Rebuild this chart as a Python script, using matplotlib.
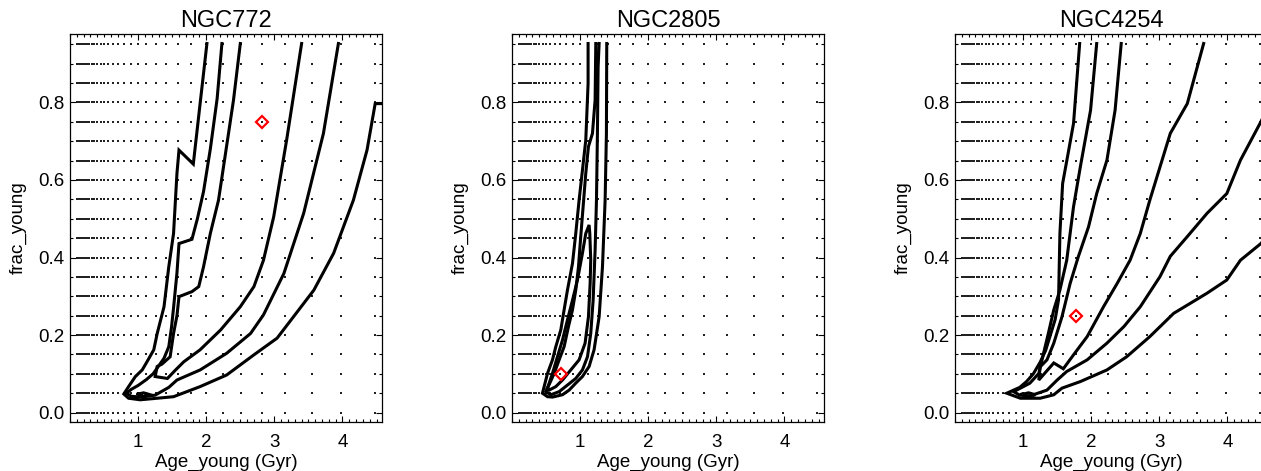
"""
Age / young-fraction contour panels for three galaxies
"""
import matplotlib
matplotlib.use('Agg')
import matplotlib.pyplot as plt
from matplotlib.ticker import MultipleLocator

plt.rcParams['font.family'] = ['Liberation Sans', 'DejaVu Sans']

# model grid (Gyr, fraction)
grid_ages = [0.10, 0.11, 0.13, 0.14, 0.16, 0.18, 0.20, 0.22, 0.25, 0.28,
             0.32, 0.35, 0.40, 0.45, 0.50, 0.56, 0.63, 0.71, 0.79, 0.89,
             1.00, 1.12, 1.26, 1.41, 1.58, 1.78, 2.00, 2.24, 2.51, 2.82,
             3.16, 3.55, 3.98, 4.47]
grid_fracs = [0.00, 0.05, 0.10, 0.15, 0.20, 0.25, 0.30, 0.35, 0.40, 0.45,
              0.50, 0.55, 0.60, 0.65, 0.70, 0.75, 0.80, 0.85, 0.90, 0.95]

galaxies = ['NGC772', 'NGC2805', 'NGC4254']
best_age = [2.82, 0.72, 1.78]
best_frac = [0.75, 0.10, 0.25]

# NGC772 contours
n772_c1_x = [2.50, 2.40, 2.18, 2.06, 1.96, 1.89, 1.79, 1.60, 1.57, 1.52, 1.47, 1.35,
             1.28, 1.25, 1.43, 1.55, 1.67, 1.91, 2.21, 2.50, 2.70, 2.84, 2.99, 3.18, 3.40]
n772_c1_y = [0.952, 0.806, 0.548, 0.462, 0.376, 0.325, 0.312, 0.299, 0.25, 0.204, 0.144, 0.125,
             0.119, 0.093, 0.088, 0.11, 0.131, 0.162, 0.213, 0.273, 0.325, 0.393, 0.505, 0.703, 0.952]
n772_c2_x = [2.23, 2.16, 2.06, 1.96, 1.87, 1.79, 1.60, 1.57, 1.52, 1.49, 1.45, 1.38, 1.30,
             1.22, 1.12, 1.00, 0.90, 0.83, 0.90, 1.05, 1.25, 1.45, 1.57, 1.91, 2.30, 2.65,
             2.84, 3.14, 3.43, 3.72, 3.94]
n772_c2_y = [0.952, 0.81, 0.68, 0.57, 0.50, 0.447, 0.436, 0.36, 0.27, 0.22, 0.17, 0.14, 0.12,
             0.10, 0.085, 0.07, 0.06, 0.05, 0.042, 0.040, 0.045, 0.065, 0.084, 0.11, 0.153, 0.204,
             0.252, 0.359, 0.514, 0.72, 0.952]
n772_c3_x = [2.01, 1.91, 1.81, 1.60, 1.57, 1.52, 1.45, 1.38, 1.28, 1.23, 1.13, 1.06, 0.96,
             0.86, 0.79, 0.86, 1.03, 1.28, 1.52, 1.91, 2.30, 2.70, 3.04, 3.28, 3.58, 3.87,
             4.16, 4.36, 4.48, 4.59]
n772_c3_y = [0.952, 0.797, 0.641, 0.677, 0.617, 0.462, 0.376, 0.273, 0.204, 0.162, 0.131, 0.110, 0.093,
             0.067, 0.048, 0.037, 0.033, 0.037, 0.041, 0.067, 0.097, 0.149, 0.192, 0.247, 0.316, 0.411,
             0.548, 0.677, 0.797, 0.797]
n772_c0_x = [1.00, 1.08, 1.16, 1.08, 1.00]
n772_c0_y = [0.048, 0.051, 0.047, 0.041, 0.048]

# NGC2805 contours
n2805_c1_x = [0.521, 0.594, 0.667, 0.741, 0.814, 0.888, 0.961, 1.034, 1.083, 1.132, 1.142,
              1.156, 1.147, 1.122, 1.073, 0.985, 0.863, 0.741, 0.643, 0.545, 0.521]
n2805_c1_y = [0.063, 0.101, 0.144, 0.187, 0.239, 0.290, 0.342, 0.411, 0.462, 0.484, 0.462,
              0.393, 0.333, 0.247, 0.179, 0.136, 0.110, 0.084, 0.067, 0.058, 0.063]
n2805_c2_x = [1.230, 1.220, 1.181, 1.122, 1.083, 1.044, 1.005, 0.976, 0.936, 0.888, 0.829,
              0.765, 0.692, 0.619, 0.555, 0.496, 0.570, 0.692, 0.814, 0.936, 1.034, 1.108,
              1.156, 1.191, 1.220, 1.240, 1.254, 1.264, 1.279]
n2805_c2_y = [0.952, 0.806, 0.720, 0.686, 0.617, 0.531, 0.445, 0.376, 0.316, 0.265, 0.222,
              0.170, 0.136, 0.101, 0.076, 0.054, 0.046, 0.054, 0.071, 0.088, 0.110, 0.144,
              0.204, 0.290, 0.419, 0.548, 0.720, 0.892, 0.952]
n2805_c3_x = [1.117, 1.117, 1.083, 1.034, 0.985, 0.936, 0.888, 0.814, 0.765, 0.716, 0.643,
              0.594, 0.521, 0.472, 0.447, 0.521, 0.594, 0.741, 0.839, 0.936, 1.034, 1.132,
              1.205, 1.279, 1.328, 1.367, 1.386, 1.391]
n2805_c3_y = [0.952, 0.849, 0.703, 0.625, 0.548, 0.462, 0.385, 0.316, 0.265, 0.213, 0.170,
              0.136, 0.101, 0.067, 0.050, 0.041, 0.040, 0.046, 0.058, 0.076, 0.093, 0.119,
              0.162, 0.247, 0.376, 0.548, 0.720, 0.952]

# NGC4254 contours
n4254_c1_x = [2.44, 2.35, 2.23, 2.08, 1.96, 1.81, 1.69, 1.57, 1.45, 1.35, 1.25, 1.23,
              1.45, 1.59, 1.74, 1.94, 2.18, 2.38, 2.57, 2.72, 2.86, 3.16, 3.41, 3.65]
n4254_c1_y = [0.952, 0.78, 0.651, 0.565, 0.479, 0.402, 0.333, 0.247, 0.179, 0.136, 0.118, 0.084,
              0.128, 0.113, 0.149, 0.196, 0.273, 0.333, 0.393, 0.462, 0.548, 0.72, 0.797, 0.952]
n4254_c2_x = [2.08, 1.99, 1.84, 1.74, 1.64, 1.54, 1.45, 1.37, 1.30, 1.23, 1.10, 0.96, 0.86,
              0.95, 1.10, 1.35, 1.50, 1.64, 1.94, 2.23, 2.48, 2.72, 3.01, 3.16, 3.41, 3.70,
              3.99, 4.19, 4.49, 4.60]
n4254_c2_y = [0.952, 0.78, 0.634, 0.531, 0.393, 0.316, 0.265, 0.204, 0.153, 0.101, 0.076, 0.063, 0.054,
              0.045, 0.043, 0.058, 0.084, 0.106, 0.136, 0.179, 0.222, 0.273, 0.351, 0.403, 0.454, 0.514,
              0.565, 0.651, 0.75, 0.79]
n4254_c3_x = [1.83, 1.74, 1.66, 1.58, 1.54, 1.52, 1.47, 1.40, 1.33, 1.25, 1.15, 1.05, 0.95,
              0.76, 0.96, 1.25, 1.45, 1.57, 1.84, 2.23, 2.52, 2.86, 3.21, 3.70, 3.99, 4.19,
              4.49, 4.60]
n4254_c3_y = [0.952, 0.746, 0.668, 0.591, 0.462, 0.291, 0.24, 0.20, 0.16, 0.13, 0.10, 0.08, 0.065,
              0.050, 0.037, 0.037, 0.046, 0.063, 0.08, 0.11, 0.144, 0.196, 0.256, 0.308, 0.342, 0.393,
              0.436, 0.46]
n4254_c0_x = [0.98, 1.08, 1.18, 1.08, 0.98]
n4254_c0_y = [0.047, 0.051, 0.046, 0.041, 0.047]

contours = [
    [(n772_c0_x, n772_c0_y), (n772_c1_x, n772_c1_y), (n772_c2_x, n772_c2_y), (n772_c3_x, n772_c3_y)],
    [(n2805_c1_x, n2805_c1_y), (n2805_c2_x, n2805_c2_y), (n2805_c3_x, n2805_c3_y)],
    [(n4254_c0_x, n4254_c0_y), (n4254_c1_x, n4254_c1_y), (n4254_c2_x, n4254_c2_y), (n4254_c3_x, n4254_c3_y)],
]

W, H = 1261, 471
fig = plt.figure(figsize=(W / 100, H / 100), dpi=100)

lefts = [70, 512, 955]
for i, name in enumerate(galaxies):
    ax = fig.add_axes([lefts[i] / W, (H - 421.7) / H, 312 / W, 387.5 / H])

    # grid points of the model
    gx = [a for a in grid_ages for f in grid_fracs]
    gy = [f for a in grid_ages for f in grid_fracs]
    ax.scatter(gx, gy, s=1.0, c='#222222', marker='s', linewidths=0, zorder=1)

    for cx, cy in contours[i]:
        ax.plot(cx, cy, color='k', lw=2.2, solid_joinstyle='miter', zorder=2)

    # best fit
    ax.plot(best_age[i], best_frac[i], marker='D', ms=6, mfc='none', mec='red',
            mew=1.6, zorder=3)

    ax.set_xlim(0.0, 4.58)
    ax.set_ylim(-0.0235, 0.976)
    ax.xaxis.set_minor_locator(MultipleLocator(0.1))
    ax.yaxis.set_minor_locator(MultipleLocator(0.05))
    ax.set_xticks([1, 2, 3, 4])
    ax.set_yticks([0.0, 0.2, 0.4, 0.6, 0.8])
    ax.set_yticklabels(['0.0', '0.2', '0.4', '0.6', '0.8'])
    ax.tick_params(which='both', direction='in', top=True, right=True,
                   width=0.8, labelsize=13.5)
    ax.tick_params(which='major', length=4.5)
    ax.tick_params(which='minor', length=2.4)
    ax.tick_params(axis='x', pad=9)
    ax.tick_params(axis='y', pad=4)
    for sp in ax.spines.values():
        sp.set_linewidth(0.9)

    ax.set_xlabel('Age_young (Gyr)', fontsize=13.5, labelpad=2)
    ax.set_ylabel('frac_young', fontsize=13.5, labelpad=8)
    ax.set_title(name, fontsize=17, pad=5)

plt.savefig('out.png', dpi=100)
plt.close()
